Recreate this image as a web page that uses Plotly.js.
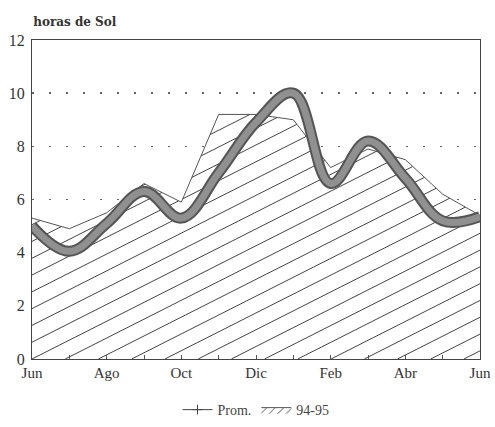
<!DOCTYPE html>
<html>
<head>
<meta charset="utf-8">
<script src="https://cdn.plot.ly/plotly-3.0.1.min.js"></script>
<style>html,body{margin:0;padding:0;background:#fff;}#chart{width:495px;height:427px;}</style>
</head>
<body>
<div id="chart"></div>
<script>
// Months from June to the next June (index 0..12)
const monthIndex = [0,1,2,3,4,5,6,7,8,9,10,11,12];
const tickLabels = ["Jun","","Ago","","Oct","","Dic","","Feb","","Abr","","Jun"];
// Season 94-95 (hatched area), hours of sun
const season9495 = [5.3, 4.9, 5.5, 6.6, 5.9, 9.2, 9.2, 9.0, 7.2, 7.9, 7.5, 6.2, 5.4];
// Average (thick grey line)
const promedio = [5.0, 4.05, 5.1, 6.3, 5.3, 7.0, 8.9, 10.0, 6.6, 8.2, 6.8, 5.2, 5.35];

const FONT = "Liberation Serif, DejaVu Serif, serif";

// Hatching style (shallow diagonal lines), clipped to the area under season9495
const HATCH_SLOPE = 0.71;   // value units per month
const HATCH_STEP = 0.89;    // months between lines along the base
function areaTop(x) {
  const i = Math.min(Math.floor(x), monthIndex.length - 2);
  const t = x - monthIndex[i];
  return season9495[i] + (season9495[i + 1] - season9495[i]) * t;
}
const hatchX = [], hatchY = [];
const xmax = monthIndex[monthIndex.length - 1];
for (let k = -20; k * HATCH_STEP <= xmax; k++) {
  const c = k * HATCH_STEP;
  let inRun = false, lastX = null, lastY = null;
  for (let x = 0; x <= xmax + 1e-9; x += 0.004) {
    const y = HATCH_SLOPE * (x - c);
    const ok = y >= 0 && y <= areaTop(x);
    if (ok) {
      if (!inRun) { hatchX.push(x); hatchY.push(y); inRun = true; }
      lastX = x; lastY = y;
    } else if (inRun) {
      hatchX.push(lastX, null); hatchY.push(lastY, null); inRun = false;
    }
  }
  if (inRun) { hatchX.push(lastX, null); hatchY.push(lastY, null); }
}

const traces = [
  {
    x: monthIndex, y: season9495, type: 'scatter', mode: 'lines',
    name: '94-95', fill: 'tozeroy', fillcolor: '#ffffff',
    line: {color: '#555', width: 1},
    showlegend: false
  },
  {
    x: hatchX, y: hatchY, type: 'scatter', mode: 'lines',
    line: {color: '#444', width: 1}, connectgaps: false,
    showlegend: false, hoverinfo: 'skip'
  },
  {
    x: monthIndex, y: promedio, type: 'scatter', mode: 'lines',
    line: {color: '#555555', width: 11, shape: 'spline', smoothing: 1.1},
    showlegend: false, hoverinfo: 'skip'
  },
  {
    x: monthIndex, y: promedio, type: 'scatter', mode: 'lines',
    line: {color: '#909090', width: 7, shape: 'spline', smoothing: 1.1},
    showlegend: false
  },
  {
    x: [null], y: [null], type: 'scatter', mode: 'lines+markers', name: 'Prom.',
    line: {color: '#444', width: 1},
    marker: {symbol: 'cross-thin-open', size: 7, color: '#444', line: {width: 1, color: '#444'}},
    showlegend: true
  },
  {
    x: [null], y: [null], type: 'scatter', mode: 'lines', name: '94-95',
    fill: 'toself', fillcolor: '#ffffff',
    fillpattern: {shape: '/', size: 6, solidity: 0.15, fgcolor: '#444', bgcolor: '#ffffff'},
    line: {color: '#555', width: 1},
    showlegend: true
  }
];

const layout = {
  width: 495, height: 427,
  margin: {l: 32, r: 15, t: 40, b: 68, autoexpand: false},
  paper_bgcolor: '#ffffff', plot_bgcolor: '#ffffff',
  font: {family: FONT, size: 14, color: '#333'},
  title: {text: '<b>horas de Sol</b>', x: 0.067, xanchor: 'left', xref: 'container',
          y: 0.948, yanchor: 'middle', yref: 'container',
          font: {family: "DejaVu Serif, serif", size: 12, color: '#333'}},
  xaxis: {
    range: [0, 12], tickvals: monthIndex, ticktext: tickLabels,
    ticks: 'inside', ticklen: 4, tickcolor: '#555',
    showline: true, linecolor: '#444', linewidth: 1, mirror: true,
    showgrid: false, zeroline: false, automargin: false,
    tickfont: {family: FONT, size: 15, color: '#333'}
  },
  yaxis: {
    range: [0, 12], dtick: 2, tick0: 0,
    ticks: '', showline: true, linecolor: '#444', linewidth: 1, mirror: true,
    showgrid: true, gridcolor: '#666', gridwidth: 1.5, griddash: '2px,15px',
    zeroline: false, ticklabelstandoff: 3, automargin: false,
    tickfont: {family: FONT, size: 16, color: '#333'}
  },
  legend: {orientation: 'h', x: 0.5, xanchor: 'center', y: -0.16, yanchor: 'middle',
           font: {family: FONT, size: 14, color: '#444'}, itemwidth: 30, tracegroupgap: 0},
  showlegend: true
};

Plotly.newPlot('chart', traces, layout, {displayModeBar: false, staticPlot: true});
</script>
</body>
</html>
